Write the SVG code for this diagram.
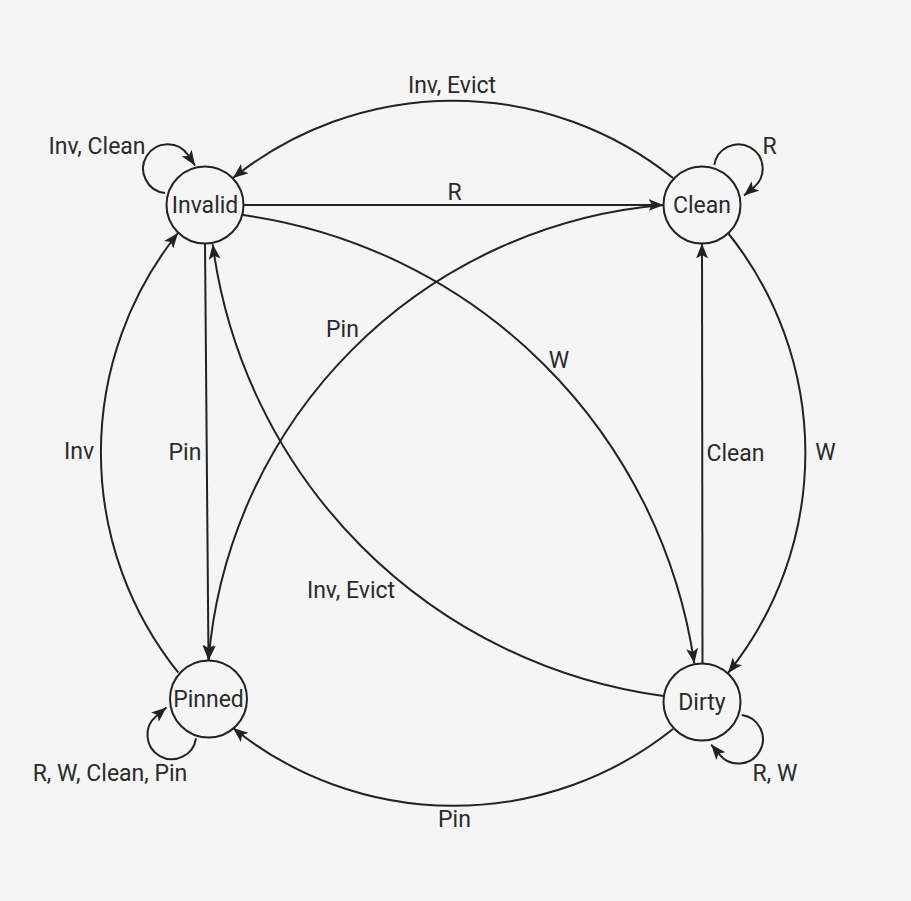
<svg xmlns="http://www.w3.org/2000/svg" width="911" height="901" viewBox="0 0 911 901">
<defs>
<style>
.node circle{fill:#f5f5f5;stroke:#222;stroke-width:2}
.node text,.lbl{font-family:Roboto,"Liberation Sans",sans-serif;font-size:23px;fill:#2a2a2a;text-anchor:middle}
.edge{fill:none;stroke:#222;stroke-width:2;marker-end:url(#arr)}
</style>
<marker id="arr" markerUnits="userSpaceOnUse" markerWidth="16" markerHeight="13" refX="15" refY="6" orient="auto">
<path d="M0,0 L15,6 L0,12 L3.5,6 z" fill="#222"/>
</marker>
</defs>
<rect width="911" height="901" fill="#f5f5f5"/>
<g id="connectors">
<path class="edge" d="M165,193 A24.5,24.5 0 1 1 188,155 L195,165.5"/>
<path class="edge" d="M714.3,165 A24.3,24.3 0 1 1 754,187.2 L744,195.6"/>
<path class="edge" d="M196,738.3 A24.4,24.4 0 1 1 156.4,715.9 L166.4,707.5"/>
<path class="edge" d="M741.7,715 A24.4,24.4 0 1 1 719.6,754.6 L711.2,744.6"/>
<path class="edge" d="M243,205 L663.5,205"/>
<path class="edge" d="M205,243 L208.5,660"/>
<path class="edge" d="M702.5,663.5 L702,243.5"/>
<path class="edge" d="M673,178 A351.5,351.5 0 0 0 233,178"/>
<path class="edge" d="M178.3,672.7 A351.5,351.5 0 0 1 178,233"/>
<path class="edge" d="M673,729 A351.5,351.5 0 0 1 233,728"/>
<path class="edge" d="M728,233 A351.5,351.5 0 0 1 728,673"/>
<path class="edge" d="M243,215 A530,530 0 0 1 694.3,663.3"/>
<path class="edge" d="M663.5,205 A498,498 0 0 0 208.5,660.5"/>
<path class="edge" d="M663.3,696 A525,525 0 0 1 212.7,244.3"/>
</g>
<g id="edge-labels">
<text class="lbl" x="97" y="154">Inv, Clean</text>
<text class="lbl" x="769.5" y="154">R</text>
<text class="lbl" x="452" y="93">Inv, Evict</text>
<text class="lbl" x="454.5" y="200">R</text>
<text class="lbl" x="342.5" y="337">Pin</text>
<text class="lbl" x="559" y="368">W</text>
<text class="lbl" x="185" y="460">Pin</text>
<text class="lbl" x="79" y="459">Inv</text>
<text class="lbl" x="735.5" y="461">Clean</text>
<text class="lbl" x="825.5" y="460">W</text>
<text class="lbl" x="351" y="598">Inv, Evict</text>
<text class="lbl" x="110" y="781">R, W, Clean, Pin</text>
<text class="lbl" x="775" y="781">R, W</text>
<text class="lbl" x="454.5" y="827">Pin</text>
</g>
<g id="node-invalid" class="node"><circle cx="205" cy="205" r="38.5"/><text x="205" y="213">Invalid</text></g>
<g id="node-clean" class="node"><circle cx="702" cy="205" r="38.5"/><text x="702" y="213">Clean</text></g>
<g id="node-pinned" class="node"><circle cx="208.5" cy="699" r="38.5"/><text x="208.5" y="707">Pinned</text></g>
<g id="node-dirty" class="node"><circle cx="702" cy="702" r="38.5"/><text x="702" y="710">Dirty</text></g>
</svg>
